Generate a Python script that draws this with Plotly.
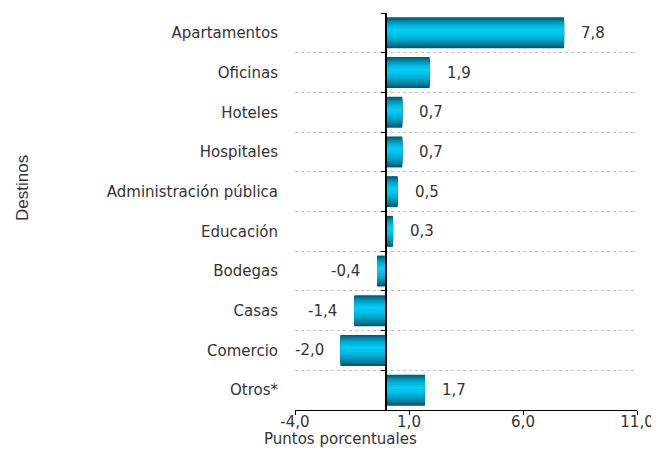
import plotly.graph_objects as go

categories = ["Apartamentos", "Oficinas", "Hoteles", "Hospitales", "Administración pública",
              "Educación", "Bodegas", "Casas", "Comercio", "Otros*"]
values = [7.8, 1.9, 0.7, 0.7, 0.5, 0.3, -0.4, -1.4, -2.0, 1.7]
x_ticks = [-4, 1, 6, 11]
x_tick_labels = ["-4,0", "1,0", "6,0", "11,0"]

pos = list(range(len(categories)))
TXT = "#333333"
FONT = "DejaVu Sans, Liberation Sans, Arial, sans-serif"

fig = go.Figure()

# gradient bars built from layered bars
BW = 0.78
K = 14
dark = (0, 88, 112)
bright = (0, 206, 247)
c, hu, hd = 0.42, 0.42, 0.58
for k in range(K):
    t = k / (K - 1)
    r = (1 - t) ** 0.6
    s_top = max(0.0, c - hu * r)
    s_bot = min(1.0, c + hd * r)
    if s_bot - s_top < 0.03:
        s_top, s_bot = c - 0.015, c + 0.015
    col = tuple(int(round(dark[i] + (bright[i] - dark[i]) * t)) for i in range(3))
    fig.add_trace(go.Bar(
        x=values, y=pos, orientation="h",
        width=(s_bot - s_top) * BW,
        offset=-BW / 2 + s_top * BW,
        marker=dict(color="rgb(%d,%d,%d)" % col, line=dict(width=0)),
        hoverinfo="skip", showlegend=False, yaxis="y",
    ))

# invisible trace to activate the zero-positioned axis
fig.add_trace(go.Scatter(x=[0], y=[0], mode="markers", marker=dict(opacity=0),
                         yaxis="y2", showlegend=False, hoverinfo="skip"))

for v, p in zip(values, pos):
    fig.add_annotation(
        x=v, y=p, xref="x", yref="y",
        text=f"{v:.1f}".replace(".", ","),
        showarrow=False,
        xanchor="left" if v >= 0 else "right",
        xshift=15 if v >= 0 else -15,
        font=dict(family=FONT, size=15, color=TXT),
    )

xmin, xmax = -4, 11
fig.update_layout(
    template="none",
    width=651, height=446,
    margin=dict(l=287, r=22, t=5, b=44, autoexpand=False),
    plot_bgcolor="white", paper_bgcolor="white",
    barmode="overlay",
    font=dict(family=FONT, size=15, color=TXT),
    xaxis=dict(
        range=[xmin, xmax], tickvals=x_ticks, ticktext=x_tick_labels,
        ticks="outside", ticklen=4, tickcolor="black", tickwidth=1,
        showline=True, linecolor="black", linewidth=1,
        showgrid=False, zeroline=False, automargin=False,
        ticklabelstandoff=-6,
        tickfont=dict(family=FONT, size=15, color=TXT),
    ),
    yaxis=dict(
        range=[len(categories) - 0.5, -0.5], tickvals=pos, ticktext=categories,
        ticks="", showline=False, showgrid=False, zeroline=False,
        ticklabelstandoff=16, automargin=False,
        tickfont=dict(family=FONT, size=15, color=TXT),
    ),
    yaxis2=dict(
        range=[len(categories) - 0.5, -0.5], overlaying="y", anchor="free",
        position=(0 - xmin) / (xmax - xmin), side="left",
        tickvals=[p - 0.5 for p in pos] + [len(categories) - 0.5],
        showticklabels=False, ticks="outside", ticklen=4, tickcolor="black",
        showline=True, linecolor="black", linewidth=1.5,
        showgrid=True, gridcolor="#c0c0c0", griddash="dot", gridwidth=1,
        zeroline=False, automargin=False,
    ),
)

fig.add_annotation(
    text="Puntos porcentuales", xref="paper", yref="paper",
    x=(262 - 295) / 342, y=(410 - 439) / 397, xanchor="left", yanchor="middle",
    showarrow=False, font=dict(family=FONT, size=15, color=TXT),
)
fig.add_annotation(
    text="Destinos", xref="paper", yref="paper",
    x=(22 - 295) / 342, y=(410 - 188) / 397, xanchor="center", yanchor="middle",
    textangle=-90, showarrow=False,
    font=dict(family="Liberation Sans Narrow, Liberation Sans, Arial Narrow, sans-serif", size=17, color=TXT),
)

fig.write_html("out.html")
